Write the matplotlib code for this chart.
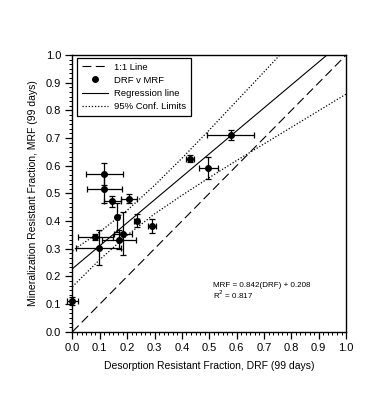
import numpy as np
import matplotlib
matplotlib.use("Agg")
import matplotlib.pyplot as plt
from matplotlib.ticker import MultipleLocator
from matplotlib.lines import Line2D

plt.rcParams["font.family"] = ["Liberation Sans", "DejaVu Sans"]

# data: DRF (x) vs MRF (y) with +/- errors
drf = [0.0, 0.096, 0.084, 0.117, 0.117, 0.146, 0.207, 0.164, 0.235, 0.292, 0.184, 0.172, 0.430, 0.497, 0.579]
mrf = [0.112, 0.304, 0.342, 0.570, 0.517, 0.472, 0.481, 0.414, 0.402, 0.383, 0.355, 0.333, 0.625, 0.591, 0.711]
drf_err = [0.02, 0.081, 0.063, 0.067, 0.063, 0.030, 0.028, 0.005, 0.010, 0.015, 0.033, 0.062, 0.015, 0.035, 0.086]
mrf_err = [0.015, 0.064, 0.010, 0.040, 0.050, 0.020, 0.016, 0.052, 0.025, 0.025, 0.077, 0.035, 0.013, 0.039, 0.019]

# regression line as drawn, and the 95% confidence limits
reg_slope = 0.83
reg_intercept = 0.228
band_x = [0.0, 0.1, 0.2, 0.3, 0.4, 0.5, 0.6, 0.7, 0.8, 0.9, 1.0]
band_upper = [0.293, 0.361, 0.439, 0.529, 0.627, 0.729, 0.834, 0.939, 1.045, 1.151, 1.257]
band_lower = [0.163, 0.261, 0.349, 0.426, 0.493, 0.557, 0.619, 0.679, 0.739, 0.799, 0.859]

eq_text = "MRF = 0.842(DRF) + 0.208"
r2_text = "R$^2$ = 0.817"

fig = plt.figure(figsize=(3.85, 3.96), dpi=100)
ax = fig.add_axes([0.188, 0.162, 0.711, 0.699])

dash_style = (8, 4)
dot_style = (0, (1, 1.5))

ax.plot([0, 1], [0, 1], color="black", lw=0.8, dashes=dash_style)
ax.errorbar(drf, mrf, xerr=drf_err, yerr=mrf_err, fmt="o", color="black",
            ms=4, elinewidth=0.9, capsize=2.2, capthick=0.9,
            clip_on=False, zorder=3)
xs = np.array([0.0, 1.0])
ax.plot(xs, reg_intercept + reg_slope * xs, color="black", lw=0.8)
ax.plot(band_x, band_upper, color="black", lw=0.9, ls=dot_style)
ax.plot(band_x, band_lower, color="black", lw=0.9, ls=dot_style)

ax.set_xlim(0, 1)
ax.set_ylim(0, 1)
ax.xaxis.set_major_locator(MultipleLocator(0.1))
ax.yaxis.set_major_locator(MultipleLocator(0.1))
ax.xaxis.set_minor_locator(MultipleLocator(0.1 / 6))
ax.yaxis.set_minor_locator(MultipleLocator(0.1 / 6))
ax.tick_params(which="major", direction="out", length=5, width=0.9, labelsize=8, pad=3)
ax.tick_params(which="minor", direction="out", length=2.5, width=0.7)
ax.tick_params(top=False, right=False, which="both")
for s in ax.spines.values():
    s.set_linewidth(1.0)

ax.set_xlabel("Desorption Resistant Fraction, DRF (99 days)", fontsize=7.5, labelpad=6)
ax.set_ylabel("Mineralization Resistant Fraction, MRF (99 days)", fontsize=7.5, labelpad=6)

ax.text(0.512, 0.168, eq_text, fontsize=5.8, transform=ax.transAxes, va="center")
ax.text(0.512, 0.133, r2_text, fontsize=5.8, transform=ax.transAxes, va="center")

handles = [
    Line2D([], [], color="black", lw=0.8, dashes=dash_style),
    Line2D([], [], color="black", ls="none", marker="o", ms=4),
    Line2D([], [], color="black", lw=0.8),
    Line2D([], [], color="black", lw=0.9, ls=dot_style),
]
labels = ["1:1 Line", "DRF v MRF", "Regression line", "95% Conf. Limits"]
leg = ax.legend(handles, labels, loc="upper left", bbox_to_anchor=(0.018, 0.99), fontsize=6.8,
                frameon=True, fancybox=False, edgecolor="black", framealpha=1,
                handlelength=2.8, handletextpad=0.6, borderpad=0.5, labelspacing=0.45,
                borderaxespad=0)
leg.get_frame().set_linewidth(0.9)

fig.savefig("out.png", dpi=100)
